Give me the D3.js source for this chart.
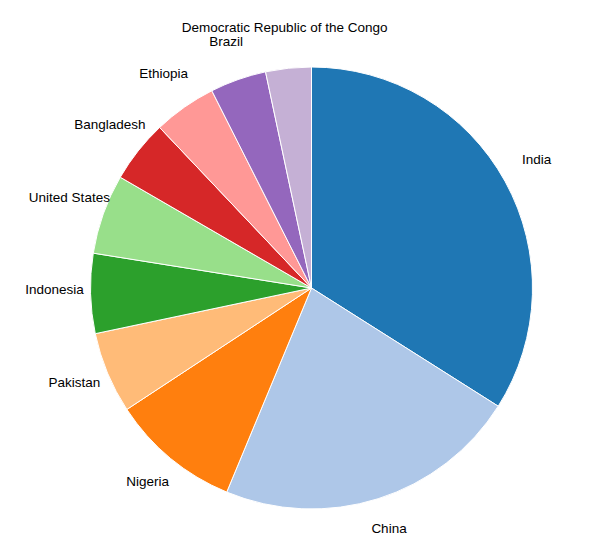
<!DOCTYPE html>
<html>
<head>
<meta charset="utf-8">
<script src="https://cdn.jsdelivr.net/npm/d3@7"></script>
<style>
  body { margin: 0; background: #fff; }
  text { font-family: "Liberation Sans", Arial, sans-serif; font-size: 13.5px; fill: #000; }
</style>
</head>
<body>
<script>
// countries, clockwise from 12 o'clock
const countries = ['India', 'China', 'Nigeria', 'Pakistan', 'Indonesia', 'United States',
  'Bangladesh', 'Ethiopia', 'Brazil', 'Democratic Republic of the Congo']
const values = [1223, 802, 341, 214, 210, 210, 165, 166, 148, 120]
const colors = ['#1f77b4', '#aec7e8', '#ff7f0e', '#ffbb78', '#2ca02c', '#98df8a',
  '#d62728', '#ff9896', '#9467bd', '#c5b0d5']

const width = 600, height = 553
const radius = 221
const labelRadius = 257

const data = countries.map((c, i) => ({ name: c, value: values[i] }))

const color = d3.scaleOrdinal().domain(countries).range(colors)

const pie = d3.pie().sort(null).value(d => d.value)
const arc = d3.arc().innerRadius(0).outerRadius(radius)
const labelArc = d3.arc().innerRadius(labelRadius).outerRadius(labelRadius)

let svg = d3.select('body')
  .append('svg')
  .attr('width', width)
  .attr('height', height)

let g = svg.append('g')
  .attr('transform', 'translate(311.5,288)')

let slices = g.selectAll('g.slice')
  .data(pie(data))
  .enter()
  .append('g')
  .attr('class', 'slice')

slices.append('path')
  .attr('d', arc)
  .attr('fill', d => color(d.data.name))
  .attr('stroke', '#fff')
  .attr('stroke-width', 1)

slices.append('text')
  .attr('transform', d => 'translate(' + labelArc.centroid(d) + ')')
  .attr('text-anchor', 'middle')
  .text(d => d.data.name)
</script>
</body>
</html>
